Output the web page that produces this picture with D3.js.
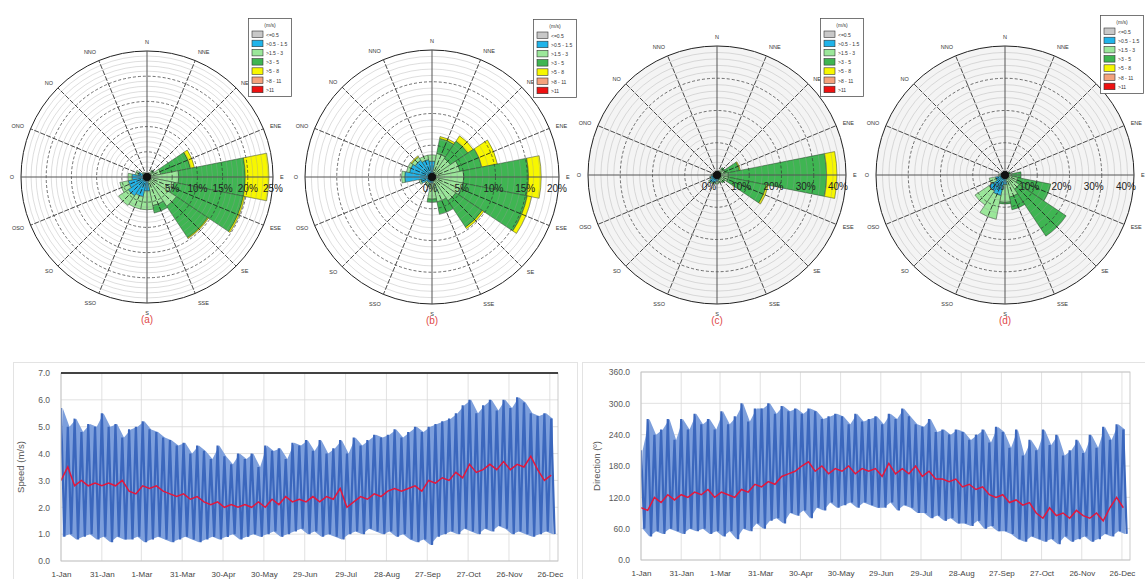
<!DOCTYPE html>
<html><head><meta charset="utf-8">
<script src="https://cdn.jsdelivr.net/npm/d3@7"></script>
<style>body{margin:0;background:#fff}svg{display:block}</style>
</head><body>
<svg id="chart" width="1145" height="579"></svg>
<script>
// ---------------- DATA ----------------
const directions = ["N","NNE","NE","ENE","E","ESE","SE","SSE","S","SSO","SO","OSO","O","ONO","NO","NNO"];
const speedBins = ["<=0.5", ">0.5 - 1.5", ">1.5 - 3", ">3 - 5", ">5 - 8", ">8 - 11", ">11"];
const legendTitle = "(m/s)";

// frequency (%) per direction per speed bin
const roseA = [
 [0,0.5,0.2,0,0,0,0],[0,0.4,0.4,0,0,0,0],[0,0.4,1.0,0.3,0,0,0],[0,0.3,2.5,6.0,0.8,0,0],
 [0,0.3,6.0,13.2,4.7,0,0],[0,0.5,5.0,14.0,0.3,0,0],[0,0.6,6.4,7.5,0.2,0,0],[0,0.8,5.0,1.5,0,0,0],
 [0,2.8,3.7,0,0,0,0],[0,4.0,2.5,0,0,0,0],[0,4.5,2.3,0,0,0,0],[0,3.8,1.7,0,0,0,0],
 [0,3.0,0.8,0,0,0,0],[0,1.8,0.6,0,0,0,0],[0,0.9,0.3,0,0,0,0],[0,0.6,0.2,0,0,0,0]
];
const roseB = [
 [0,2.5,1.0,0,0,0,0],[0,0.8,3.0,2.4,0.3,0,0],[0,0.5,3.0,3.3,1.0,0,0],[0,0.5,4.0,3.5,2.5,0,0],
 [0,0.5,4.5,10.2,2.0,0,0],[0,0.5,4.5,10.3,0.7,0,0],[0,0.5,4.0,5.0,0.3,0,0],[0,0.5,3.5,2.0,0,0,0],
 [0,1.0,2.5,0.5,0,0,0],[0,1.0,0.6,0,0,0,0],[0,1.0,0.4,0,0,0,0],[0,1.8,0.3,0,0,0,0],
 [0,4.3,0.5,0,0,0,0],[0,3.6,0.5,0,0,0,0],[0,3.2,0.6,0,0.2,0,0],[0,2.8,0.7,0,0,0,0]
];
const roseC = [
 [0,1.0,0.3,0,0,0,0],[0,0.8,0.5,0,0,0,0],[0,0.8,1.5,0.5,0,0,0],[0,0.6,2.0,4.5,0.3,0,0],
 [0,0.5,3.0,30.5,3.2,0,0],[0,0.6,3.0,12.0,0.6,0,0],[0,1.0,1.5,0.5,0,0,0],[0,1.5,1.0,0,0,0,0],
 [0,2.0,0.8,0,0,0,0],[0,2.5,0.5,0,0,0,0],[0,2.8,0.4,0,0,0,0],[0,2.0,0.3,0,0,0,0],
 [0,1.5,0.2,0,0,0,0],[0,1.0,0.2,0,0,0,0],[0,0.8,0,0,0,0,0],[0,0.8,0,0,0,0,0]
];
const roseD = [
 [0,0.8,0,0,0,0,0],[0,0.8,0,0,0,0,0],[0,0.8,0.3,0,0,0,0],[0,0.5,0.8,0.5,0,0,0],
 [0,0.5,1.5,3.0,0,0,0],[0,0.5,3.5,10.5,0,0,0],[0,0.8,4.5,17.5,0,0,0],[0,1.0,6.0,4.0,0,0,0],
 [0,3.0,5.5,0.5,0,0,0],[0,6.5,7.5,0,0,0,0],[0,6.0,5.2,0,0,0,0],[0,3.0,2.0,0,0,0,0],
 [0,1.5,0.5,0,0,0,0],[0,1.0,0.2,0,0,0,0],[0,0.8,0,0,0,0,0],[0,0.8,0,0,0,0,0]
];
const roseTitles = ["(a)","(b)","(c)","(d)"];
const roseMax = [25,20,40,40];

// time series: day-of-year tick positions and labels
const dateTickDays = [0,30,59,89,119,149,179,209,239,269,299,329,359];
const dateTickLabels = ["1-Jan","31-Jan","1-Mar","31-Mar","30-Apr","30-May","29-Jun","29-Jul","28-Aug","27-Sep","27-Oct","26-Nov","26-Dec"];
const stepDays = 5; // one value per 5-day block

const speedHigh = [5.7,5.0,5.3,4.8,5.1,5.0,5.5,5.0,5.1,4.6, 4.9,5.0,5.2,4.9,4.8,4.6,4.5,4.3,4.4,4.0,
 4.3,4.1,3.8,4.3,3.9,3.6,4.0,3.8,4.0,3.5, 4.3,4.1,4.2,3.8,4.4,4.3,4.5,4.1,4.5,4.0,
 4.2,4.5,4.0,4.6,4.3,4.5,4.7,4.6,4.7,4.9, 4.6,4.8,5.0,4.8,5.0,5.1,5.2,5.3,5.5,5.8,
 6.0,5.5,5.8,6.0,5.6,6.0,5.7,6.1,5.9,5.5, 5.4,5.5,5.3];
const speedLow = [0.9,1.0,0.8,0.9,1.0,0.8,0.9,0.7,0.9,0.8, 0.8,0.9,0.7,0.8,0.9,0.8,0.7,0.8,0.9,0.8,
 0.7,0.8,0.9,0.8,0.9,1.0,0.8,0.9,1.0,0.9, 1.0,1.1,0.9,1.0,1.1,1.2,1.0,1.1,0.9,1.0,
 0.9,0.8,1.0,1.1,1.0,1.2,1.1,1.0,1.1,0.9, 1.0,0.8,0.7,0.8,0.6,0.9,1.0,1.1,1.0,1.2,
 1.1,1.0,1.2,1.1,1.3,1.2,1.0,1.1,1.0,0.9, 1.0,1.1,1.0];
const speedMean = [3.0,3.5,2.8,3.0,2.8,2.9,2.8,2.9,2.8,3.0, 2.6,2.5,2.8,2.7,2.8,2.6,2.5,2.4,2.5,2.3,
 2.4,2.2,2.1,2.2,2.0,2.1,2.0,2.1,2.0,2.2, 2.0,2.3,2.1,2.4,2.2,2.3,2.2,2.4,2.2,2.4,
 2.3,2.7,2.0,2.2,2.4,2.3,2.5,2.4,2.6,2.7, 2.6,2.7,2.8,2.6,3.0,2.9,3.1,3.0,3.3,3.1,
 3.6,3.3,3.4,3.6,3.4,3.7,3.4,3.6,3.5,3.9, 3.4,3.0,3.2];

const dirHigh = [210,270,240,250,270,230, 270,250,280,260,270,250, 285,260,275,300,265,290,
 290,300,280,295,285,290, 280,290,285,270,275,280, 275,260,280,265,270,275,
 260,280,270,290,275,260, 255,270,245,250,240,250, 245,230,240,250,225,255,
 245,215,250,200,230,210, 250,220,240,200,210,230, 205,240,215,255,230,260,250];
const dirLow = [60,45,55,50,60,55, 50,60,55,60,50,55, 45,55,40,60,55,70,
 60,75,80,70,90,85, 95,80,100,95,110,100, 105,110,100,110,105,100,
 100,110,95,105,100,90, 90,80,85,75,80,70, 70,65,75,60,65,55,
 55,50,40,35,45,40, 35,40,30,45,35,40, 45,35,40,50,45,55,50];
const dirMean = [100,95,120,110,125,115,125,120,130,125, 135,120,130,125,120,135,130,145,140,150,
 145,160,165,170,180,188,170,180,165,175, 170,180,165,175,170,175,160,185,165,175,
 165,180,160,170,155,155,150,155,140,145, 135,140,125,120,125,110,115,105,110,90,
 80,100,85,90,80,95,85,80,90,75, 100,120,100];

// ---------------- STYLE ----------------
const binColors = ["#c8c8c8","#20b4ea","#9be79a","#3fb552","#f7f700","#f4a27c","#ee1111"];
const FONT = "Liberation Sans, Arial, sans-serif";
const svg = d3.select("#chart");

// ---------------- WIND ROSES ----------------
const roseLayout = [
  {cx:147, cy:177, R:126, minor:1, major:5, bg:"#ffffff", lx:248, ly:18, pdx:0, zero:false},
  {cx:432, cy:177, R:127, minor:1, major:5, bg:"#ffffff", lx:533, ly:19, pdx:-2, zero:true},
  {cx:717, cy:175, R:129, minor:2, major:10, bg:"#f4f4f4", lx:820, ly:18, pdx:-8, zero:true},
  {cx:1005, cy:175, R:129, minor:2, major:10, bg:"#f4f4f4", lx:1100, ly:15, pdx:-8, zero:true}
];
const roseData = [roseA, roseB, roseC, roseD];

roseData.forEach((data, k) => {
  const L = roseLayout[k];
  const g = svg.append("g").attr("transform", `translate(${L.cx},${L.cy})`);
  const r = d3.scaleLinear().domain([0, roseMax[k]]).range([0, L.R]);
  const half = Math.PI / 16;

  g.append("circle").attr("r", L.R).attr("fill", L.bg);

  // petals
  const arc = d3.arc();
  data.forEach((bins, i) => {
    const a = i * Math.PI / 8;
    let cum = 0;
    bins.forEach((v, b) => {
      if (v <= 0) return;
      g.append("path")
        .attr("d", arc({innerRadius: r(cum), outerRadius: r(cum + v), startAngle: a - half, endAngle: a + half}))
        .attr("fill", binColors[b]).attr("stroke", "#2a3a2a").attr("stroke-width", 0.5);
      cum += v;
    });
  });

  // grid
  const minorVals = d3.range(L.minor, roseMax[k] + 0.001, L.minor).filter(v => Math.abs(v / L.major - Math.round(v / L.major)) > 1e-6);
  g.selectAll(".minor").data(minorVals).join("circle").attr("r", d => r(d))
    .attr("fill", "none").attr("stroke", "#9a9a9a").attr("stroke-opacity", 0.55).attr("stroke-width", 0.6);
  const majorVals = d3.range(L.major, roseMax[k], L.major);
  g.selectAll(".major").data(majorVals).join("circle").attr("r", d => r(d))
    .attr("fill", "none").attr("stroke", "#333").attr("stroke-width", 0.7).attr("stroke-dasharray", "3,2");
  g.append("circle").attr("r", L.R).attr("fill", "none").attr("stroke", "#222").attr("stroke-width", 1);

  directions.forEach((d, i) => {
    const a = i * Math.PI / 8;
    const sx = Math.sin(a), sy = -Math.cos(a);
    const cardinal = i % 4 === 0;
    g.append("line").attr("x1", 0).attr("y1", 0).attr("x2", sx * L.R).attr("y2", sy * L.R)
      .attr("stroke", cardinal ? "#555" : "#1a1a1a").attr("stroke-width", cardinal ? 1 : 0.8)
      .attr("stroke-dasharray", cardinal ? null : "5,1.5");
    const lr = L.R + 7;
    g.append("text").attr("x", sx * lr).attr("y", sy * lr + (sy < -0.9 ? -2 : sy > 0.9 ? 3 : 0))
      .attr("text-anchor", sx > 0.2 ? "start" : sx < -0.2 ? "end" : "middle")
      .attr("dominant-baseline", "central")
      .attr("font-family", FONT).attr("font-size", 5.5).attr("fill", "#333").text(d);
  });

  g.append("circle").attr("r", 4).attr("fill", "#111");

  // percent labels
  const pctVals = d3.range(L.zero ? 0 : L.major, roseMax[k] + 0.001, L.major);
  g.selectAll(".pct").data(pctVals).join("text")
    .attr("x", d => r(d) + L.pdx).attr("y", 15)
    .attr("text-anchor", "middle").attr("font-family", FONT).attr("font-size", 10).attr("fill", "#222")
    .text(d => d + "%");

  // title
  g.append("text").attr("x", 0).attr("y", L.R + 20).attr("text-anchor", "middle")
    .attr("font-family", FONT).attr("font-size", 10).attr("fill", "#e04848").text(roseTitles[k]);

  // legend
  const lg = svg.append("g").attr("transform", `translate(${L.lx},${L.ly})`);
  lg.append("rect").attr("x", 0.5).attr("y", 0.5).attr("width", 43).attr("height", 78)
    .attr("fill", "#fff").attr("stroke", "#555").attr("stroke-width", 0.8);
  lg.append("text").attr("x", 22).attr("y", 9).attr("text-anchor", "middle")
    .attr("font-family", FONT).attr("font-size", 5).attr("fill", "#333").text(legendTitle);
  speedBins.forEach((b, i) => {
    lg.append("rect").attr("x", 4).attr("y", 13 + i * 9.2).attr("width", 11).attr("height", 6.5)
      .attr("fill", binColors[i]).attr("stroke", "#333").attr("stroke-width", 0.6);
    lg.append("text").attr("x", 18).attr("y", 18.5 + i * 9.2)
      .attr("font-family", FONT).attr("font-size", 5).attr("fill", "#333").text(b);
  });
});

// ---------------- TIME SERIES ----------------
function drawSeries(o) {
  svg.append("rect").attr("x", o.px).attr("y", o.py).attr("width", o.pw).attr("height", 240)
    .attr("fill", "#fff").attr("stroke", "#e3e3e3").attr("stroke-width", 1);
  const x = d3.scaleLinear().domain([0, 365]).range([o.x0, o.x1]);
  const y = d3.scaleLinear().domain([0, o.ymax]).range([o.y0, o.y1]);
  const g = svg.append("g");
  const clipId = "clip" + o.id;
  g.append("clipPath").attr("id", clipId).append("rect")
    .attr("x", o.x0).attr("y", o.y1).attr("width", o.x1 - o.x0).attr("height", o.y0 - o.y1);

  // grid
  g.selectAll(".vg").data(dateTickDays).join("line")
    .attr("x1", d => x(d)).attr("x2", d => x(d)).attr("y1", o.y0).attr("y2", o.y1)
    .attr("stroke", "#d9d9d9").attr("stroke-width", 0.8);
  g.selectAll(".hg").data(o.yticks).join("line")
    .attr("x1", o.x0).attr("x2", o.x1).attr("y1", d => y(d)).attr("y2", d => y(d))
    .attr("stroke", "#d9d9d9").attr("stroke-width", 0.8);

  const pg = g.append("g").attr("clip-path", `url(#${clipId})`);
  const idx = d3.range(o.hi.length);
  const area = d3.area().x(i => x(i * stepDays + 1.25)).y0(i => y(o.lo[i])).y1(i => y(o.hi[i]));
  pg.append("path").attr("d", area(idx)).attr("fill", "#7d9fdc");

  const zig = [];
  idx.forEach(i => { zig.push([i * stepDays, o.hi[i]]); zig.push([i * stepDays + 2.5, o.lo[i]]); });
  const line = d3.line().x(p => x(p[0])).y(p => y(p[1]));
  pg.append("path").attr("d", line(zig)).attr("fill", "none").attr("stroke", "#3b67bd").attr("stroke-width", 2.2);

  const meanLine = d3.line().x((v, i) => x(i * stepDays)).y(v => y(v));
  pg.append("path").attr("d", meanLine(o.mean)).attr("fill", "none").attr("stroke", "#e3173c").attr("stroke-width", 1.5);

  // plot border
  g.append("rect").attr("x", o.x0).attr("y", o.y1).attr("width", o.x1 - o.x0).attr("height", o.y0 - o.y1)
    .attr("fill", "none").attr("stroke", "#bfbfbf").attr("stroke-width", 0.8);
  if (o.topDark) g.append("line").attr("x1", o.x0).attr("x2", o.x1).attr("y1", o.y1).attr("y2", o.y1)
    .attr("stroke", "#111").attr("stroke-width", 1.5);

  // axes
  const ay = g.append("g").attr("transform", `translate(${o.x0},0)`)
    .call(d3.axisLeft(y).tickValues(o.yticks).tickFormat(d3.format(".1f")).tickSize(0).tickPadding(11));
  ay.select(".domain").remove();
  ay.selectAll("text").attr("font-family", FONT).attr("font-size", 8.5).attr("fill", "#595959");
  const ax = g.append("g").attr("transform", `translate(0,${o.y0})`)
    .call(d3.axisBottom(x).tickValues(dateTickDays).tickFormat((d, i) => dateTickLabels[i]).tickSize(0).tickPadding(10));
  ax.select(".domain").remove();
  ax.selectAll("text").attr("font-family", FONT).attr("font-size", 8).attr("fill", "#444");

  g.append("text").attr("transform", `translate(${o.tx},${(o.y0 + o.y1) / 2}) rotate(-90)`)
    .attr("text-anchor", "middle").attr("font-family", FONT).attr("font-size", 9.5).attr("fill", "#595959").text(o.title);
}

drawSeries({id: "s", px: 13.5, py: 362.5, pw: 564, x0: 61, x1: 558, y0: 561, y1: 373, ymax: 7,
  yticks: d3.range(0, 7.01, 1), hi: speedHigh, lo: speedLow, mean: speedMean, title: "Speed (m/s)", tx: 24, topDark: true});
drawSeries({id: "d", px: 582.5, py: 362.5, pw: 570, x0: 641, x1: 1130, y0: 560, y1: 372, ymax: 360,
  yticks: d3.range(0, 360.1, 60), hi: dirHigh, lo: dirLow, mean: dirMean, title: "Direction (º)", tx: 600, topDark: false});
</script>
</body></html>
